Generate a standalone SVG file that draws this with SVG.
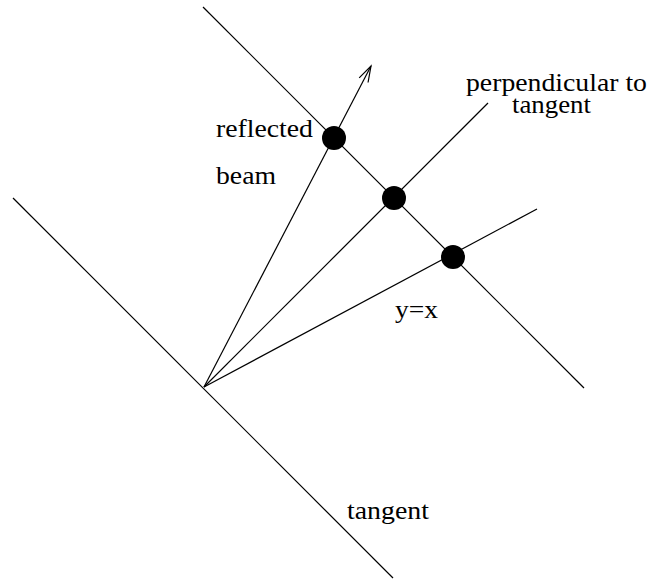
<svg xmlns="http://www.w3.org/2000/svg" width="654" height="580" viewBox="0 0 654 580">
<style>
.ln{stroke:#000;stroke-width:1.2;fill:none;stroke-linecap:butt}
.dot{fill:#000}
.lbl{font-family:"Liberation Serif","Times New Roman",serif;font-size:24.5px;fill:#000}
</style>
<defs>
<marker id="arr" viewBox="-18 -7 20 14" refX="0" refY="0" markerWidth="20" markerHeight="14" markerUnits="userSpaceOnUse" orient="auto">
<path d="M-16,-5 L0,0 L-16,5" fill="none" stroke="#000" stroke-width="1.2"/>
</marker>
</defs>
<rect width="654" height="580" fill="#fff"/>
<g id="connectors">
<line id="tangent-line" class="ln" x1="13" y1="198" x2="393" y2="578"/>
<line id="parallel-line" class="ln" x1="203" y1="7" x2="584" y2="388"/>
<line id="reflected-beam" class="ln" x1="204" y1="387" x2="371" y2="66" marker-end="url(#arr)"/>
<line id="perpendicular" class="ln" x1="204" y1="387" x2="488" y2="103"/>
<line id="yx-line" class="ln" x1="204" y1="387" x2="537" y2="209"/>
</g>
<g id="dot1"><circle class="dot" cx="334" cy="138" r="12"/></g>
<g id="dot2"><circle class="dot" cx="394" cy="198" r="12"/></g>
<g id="dot3"><circle class="dot" cx="453" cy="257" r="12"/></g>
<g id="label-reflected"><text class="lbl" x="216" y="137" textLength="97" lengthAdjust="spacingAndGlyphs">reflected</text><text class="lbl" x="216" y="184" textLength="60" lengthAdjust="spacingAndGlyphs">beam</text></g>
<g id="label-perpendicular"><text class="lbl" x="466" y="91" textLength="181" lengthAdjust="spacingAndGlyphs">perpendicular to</text><text class="lbl" x="512" y="113" textLength="79" lengthAdjust="spacingAndGlyphs">tangent</text></g>
<g id="label-yx"><text class="lbl" x="395" y="318" textLength="43" lengthAdjust="spacingAndGlyphs">y=x</text></g>
<g id="label-tangent"><text class="lbl" x="347" y="519" textLength="82" lengthAdjust="spacingAndGlyphs">tangent</text></g>
</svg>
